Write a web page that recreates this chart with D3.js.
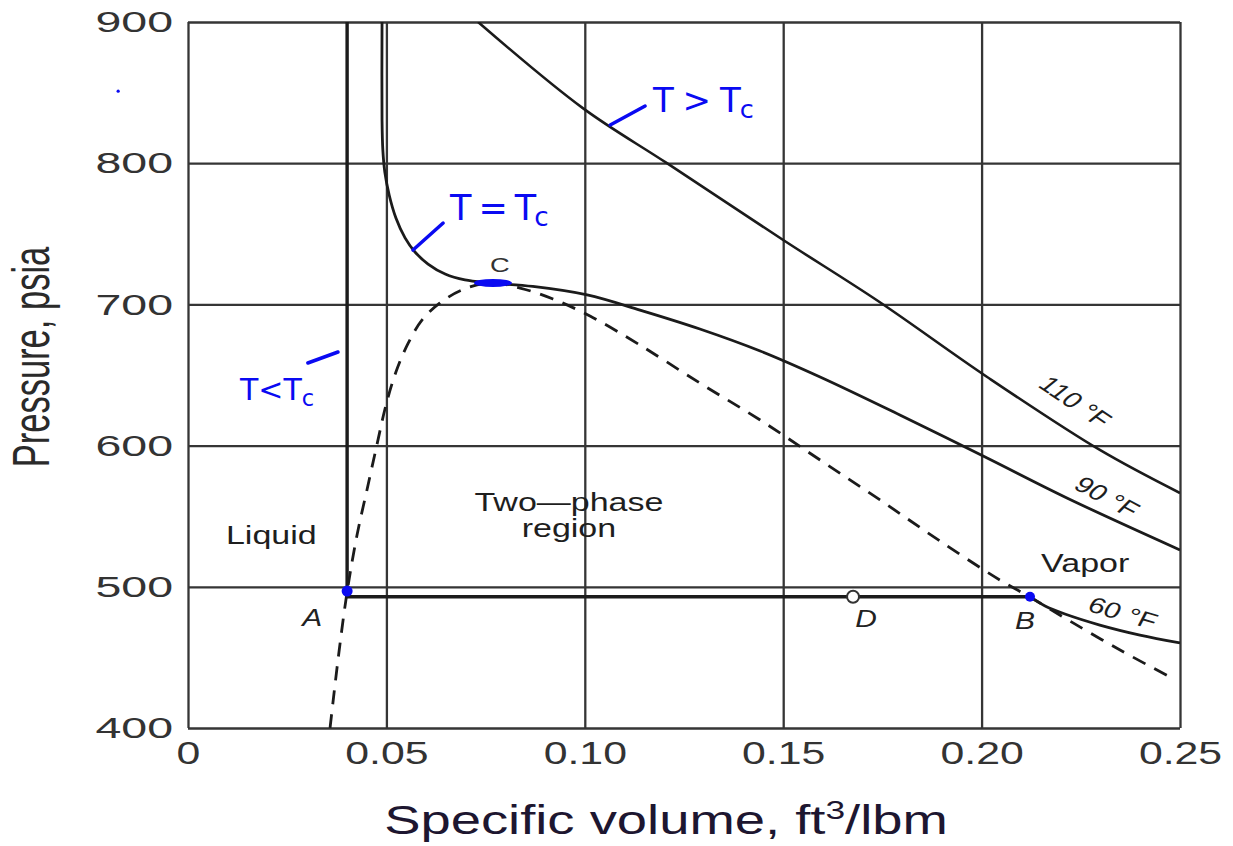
<!DOCTYPE html>
<html>
<head>
<meta charset="utf-8">
<script src="https://cdn.jsdelivr.net/npm/d3@7"></script>
<style>
  html, body { margin: 0; padding: 0; background: #fff; }
  svg { display: block; }
</style>
</head>
<body>
<svg id="chart" width="1233" height="846"></svg>
<script>
// ---- axis ticks ----
const xTicks = [0, 0.05, 0.10, 0.15, 0.20, 0.25];
const xTickLabels = ["0", "0.05", "0.10", "0.15", "0.20", "0.25"];
const yTicks = [400, 500, 600, 700, 800, 900];

// ---- saturation envelope (bubble-point + dew-point curve), v [ft3/lbm], p [psia] ----
const domeV = [0.0358, 0.0378, 0.0401, 0.0426, 0.0451, 0.0476, 0.0499, 0.0524, 0.0554, 0.0590, 0.0635,
               0.0690, 0.0761, 0.0837, 0.0920, 0.1013, 0.1139, 0.1290, 0.1442, 0.1593, 0.1744, 0.1895,
               0.2046, 0.2122, 0.2223, 0.2349, 0.2475];
const domeP = [400, 448.2, 496.4, 536.7, 568.6, 600.4, 628.8, 652.1, 672.0, 689.0, 701.0,
               710.2, 715.2, 711.6, 703.8, 691.8, 671.2, 644.3, 618.1, 589.8, 561.5, 532.4,
               504.8, 492.7, 475.7, 455.2, 436.1];

// ---- isotherms ----
// 110 °F (above critical temperature)
const iso110V = [0.0731, 0.0995, 0.1207, 0.1500, 0.1739, 0.2014, 0.2298, 0.2500];
const iso110P = [900, 839, 800, 745.6, 702.4, 648.6, 596.9, 566.4];
// 90 °F (critical isotherm)
const iso90V = [0.0489, 0.0489, 0.0491, 0.0496, 0.0507, 0.0524, 0.0547, 0.0572, 0.0605, 0.0648, 0.0698,
                0.0761, 0.0869, 0.1006, 0.1139, 0.1290, 0.1442, 0.1593, 0.1794, 0.2014, 0.2215, 0.2500];
const iso90P = [900, 830.6, 809.4, 793.8, 777.5, 761.2, 747.1, 737.1, 728.6, 721.5, 717.3,
                715.2, 712.7, 706.7, 696.0, 682.6, 667.0, 648.6, 621.7, 591.2, 562.9, 526.1];
// 60 °F (below critical temperature): liquid branch, two-phase plateau A-B, vapor branch
const iso60V = [0.0401, 0.0401, 0.2122, 0.2160, 0.2210, 0.2298, 0.2399, 0.2500];
const iso60P = [900, 493, 493, 486.4, 480.7, 472.9, 465.8, 460.2];

// ---- marked states ----
const pointA = [0.0401, 497];
const pointB = [0.2122, 493];
const pointC = [0.0761, 715.2];
const pointD = [0.1676, 493];

// ---- region and isotherm captions ----
const regionLabels = [
  { text: "Liquid", v: 0.021, p: 530 },
  { text: "Two\u2014phase", v: 0.096, p: 554 },
  { text: "region", v: 0.096, p: 535 },
  { text: "Vapor", v: 0.2261, p: 510.5 }
];
const isoLabels = [
  { text: "110 \u00B0F", v: 0.2236, p: 631, angle: 34 },
  { text: "90 \u00B0F", v: 0.2316, p: 563.6, angle: 28 },
  { text: "60 \u00B0F", v: 0.2356, p: 481.4, angle: 16 }
];

// ---- pen notes (blue) ----
const notes = [
  { main: "T > T", sub: "c", v: 0.1172, p: 836, size: 34, spacing: -1, from: [0.1064, 827.1], to: [0.1152, 840.5] },
  { main: "T = T", sub: "c", v: 0.0660, p: 759.8, size: 35, spacing: -2, from: [0.0567, 738.5], to: [0.0643, 757.6] },
  { main: "T<T", sub: "c", v: 0.0131, p: 632.3, size: 30, spacing: 0, from: [0.0302, 658.5], to: [0.0378, 666.3] }
];
const strayDot = [-0.0176, 851];

// ================= drawing =================
const svg = d3.select("#chart");
const FONT = "'Liberation Sans', Arial, Helvetica, sans-serif";
const INK = "#1b1b1b";
const BLUE = "#0a0af2";

const x = d3.scaleLinear().domain([0, 0.25]).range([188, 1180]);
const y = d3.scaleLinear().domain([400, 900]).range([728, 22]);

svg.append("rect").attr("width", 1233).attr("height", 846).attr("fill", "#fff");

svg.append("defs").append("clipPath").attr("id", "plot-clip")
  .append("rect")
  .attr("x", x(0)).attr("y", y(900))
  .attr("width", x(0.25) - x(0)).attr("height", y(400) - y(900));

// grid + tick labels via axes
const kTick = 1.38;
const gx = svg.append("g")
  .attr("transform", `translate(0,${y(400)})`)
  .call(d3.axisBottom(x).tickValues(xTicks)
    .tickFormat((d, i) => xTickLabels[i])
    .tickSize(-(y(400) - y(900))).tickPadding(14));
gx.select(".domain").remove();
gx.selectAll(".tick line").attr("stroke", "#353535").attr("stroke-width", 2.3);
gx.selectAll(".tick text")
  .attr("font-family", FONT).attr("font-size", 31).attr("fill", "#333")
  .attr("transform", `scale(${kTick},1)`);

const kYTick = 1.55;
const gy = svg.append("g")
  .attr("transform", `translate(${x(0)},0)`)
  .call(d3.axisLeft(y).tickValues(yTicks)
    .tickFormat(d3.format("d"))
    .tickSize(-(x(0.25) - x(0))).tickPadding(0));
gy.select(".domain").remove();
gy.selectAll(".tick line").attr("stroke", "#353535").attr("stroke-width", 2.3);
gy.selectAll(".tick text")
  .attr("font-family", FONT).attr("font-size", 30).attr("fill", "#333")
  .attr("x", -15 / kYTick)
  .attr("transform", `scale(${kYTick},1)`);

// helper: horizontally widened text, optional rotation
function wideText(parent, px, py, str, o) {
  const k = o.k || 1;
  let tf = `translate(${px},${py}) scale(${k},1)`;
  if (o.angle) {
    const a = Math.atan(k * Math.tan(o.angle * Math.PI / 180)) * 180 / Math.PI;
    tf += ` rotate(${a})`;
  }
  const t = parent.append("g").attr("transform", tf)
    .append("text")
    .attr("text-anchor", o.anchor || "middle")
    .attr("font-family", FONT)
    .attr("font-size", o.size)
    .attr("fill", o.fill || INK);
  if (o.baseline) t.attr("dominant-baseline", o.baseline);
  if (o.italic) t.attr("font-style", "italic");
  t.text(str);
  return t;
}

// axis titles
wideText(svg, 31, 357, "Pressure, psia", { size: 34.5, k: 1.5, baseline: "central", fill: "#2a2a2a" })
  .attr("transform", "rotate(-90)");
const xt = wideText(svg, 666, 834, "", { size: 40, k: 1.36, fill: "#1d1630" });
xt.append("tspan").text("Specific volume, ft");
xt.append("tspan").attr("font-size", 26).attr("dy", -15).text("3");
xt.append("tspan").attr("dy", 15).text("/lbm");

// curves
const plot = svg.append("g").attr("clip-path", "url(#plot-clip)");
const smooth = d3.line().x(d => x(d[0])).y(d => y(d[1])).curve(d3.curveCatmullRom.alpha(0.5));
const straight = d3.line().x(d => x(d[0])).y(d => y(d[1]));

plot.append("path").attr("d", smooth(d3.zip(domeV, domeP)))
  .attr("fill", "none").attr("stroke", INK).attr("stroke-width", 2.8)
  .attr("stroke-dasharray", "14 10");

plot.append("path").attr("d", smooth(d3.zip(iso110V, iso110P)))
  .attr("fill", "none").attr("stroke", INK).attr("stroke-width", 2.6);
plot.append("path").attr("d", smooth(d3.zip(iso90V, iso90P)))
  .attr("fill", "none").attr("stroke", INK).attr("stroke-width", 2.8);

const iso60 = d3.zip(iso60V, iso60P);
plot.append("path").attr("d", straight(iso60.slice(0, 3)))
  .attr("fill", "none").attr("stroke", INK).attr("stroke-width", 3.4)
  .attr("stroke-linejoin", "round");
plot.append("path").attr("d", smooth(iso60.slice(2)))
  .attr("fill", "none").attr("stroke", INK).attr("stroke-width", 2.8);

// state D marker
svg.append("circle").attr("cx", x(pointD[0])).attr("cy", y(pointD[1])).attr("r", 6)
  .attr("fill", "#fff").attr("stroke", "#333").attr("stroke-width", 2);

// region captions
regionLabels.forEach(d => wideText(svg, x(d.v), y(d.p), d.text, { size: 25, k: 1.36, fill: "#1e1e1e" }));

// isotherm captions
isoLabels.forEach(d => wideText(svg, x(d.v), y(d.p), d.text,
  { size: 22, k: 1.35, angle: d.angle, baseline: "central", fill: "#1e1e1e" }));

// state letters
wideText(svg, x(pointA[0]) - 35, y(pointA[1]) + 27, "A", { size: 23, k: 1.3, italic: true, baseline: "central", fill: "#222" });
wideText(svg, x(pointB[0]) - 5, y(pointB[1]) + 25, "B", { size: 23, k: 1.3, italic: true, baseline: "central", fill: "#222" });
wideText(svg, x(pointC[0]) + 10, y(pointC[1]) - 18, "C", { size: 21, k: 1.3, baseline: "central", fill: "#333" });
wideText(svg, x(pointD[0]) + 13, y(pointD[1]) + 23, "D", { size: 23, k: 1.3, italic: true, baseline: "central", fill: "#222" });

// pen marks
const pen = svg.append("g");
pen.append("ellipse").attr("cx", x(pointC[0]) + 3).attr("cy", y(pointC[1]))
  .attr("rx", 19).attr("ry", 4).attr("fill", BLUE);
pen.append("circle").attr("cx", x(pointA[0])).attr("cy", y(pointA[1])).attr("r", 5.5).attr("fill", BLUE);
pen.append("circle").attr("cx", x(pointB[0])).attr("cy", y(pointB[1])).attr("r", 5).attr("fill", BLUE);
pen.append("circle").attr("cx", x(strayDot[0])).attr("cy", y(strayDot[1])).attr("r", 1.6).attr("fill", BLUE);

notes.forEach(n => {
  pen.append("line")
    .attr("x1", x(n.from[0])).attr("y1", y(n.from[1]))
    .attr("x2", x(n.to[0])).attr("y2", y(n.to[1]))
    .attr("stroke", BLUE).attr("stroke-width", 3.5).attr("stroke-linecap", "round");
  const t = pen.append("text")
    .attr("x", x(n.v)).attr("y", y(n.p))
    .attr("font-family", "'DejaVu Sans', sans-serif")
    .attr("font-size", n.size).attr("fill", BLUE)
    .attr("letter-spacing", n.spacing);
  t.append("tspan").text(n.main);
  t.append("tspan").attr("dy", 6).attr("font-size", n.size * 0.75).text(n.sub);
});
</script>
</body>
</html>
